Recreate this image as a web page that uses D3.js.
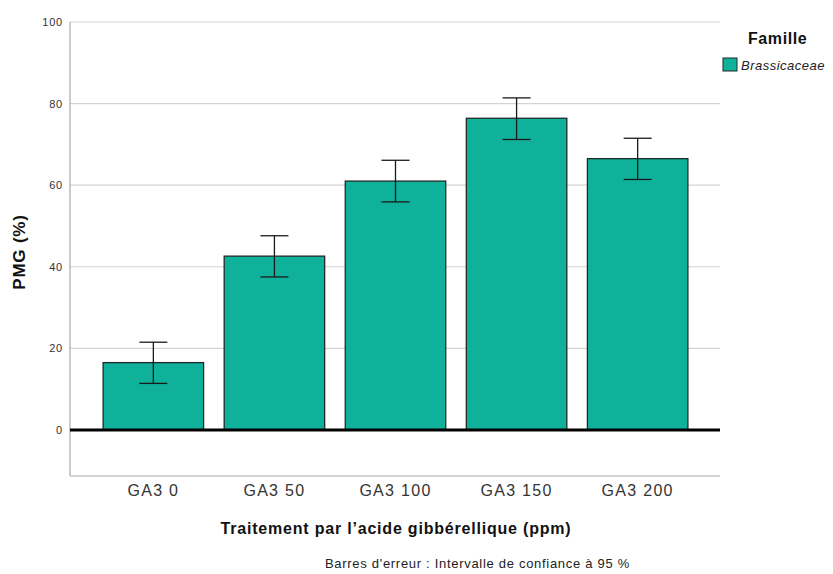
<!DOCTYPE html>
<html>
<head>
<meta charset="utf-8">
<script src="https://cdn.jsdelivr.net/npm/d3@7"></script>
<style>
  body { margin: 0; background: #fff; }
  svg { display: block; font-family: "Liberation Sans", Arial, sans-serif; }
</style>
</head>
<body>
<svg id="chart" width="833" height="574"></svg>
<script>
// Mean PMG (%) per gibberellic acid treatment, with 95% confidence limits
const categories = ["GA3 0", "GA3 50", "GA3 100", "GA3 150", "GA3 200"];
const means      = [16.5, 42.6, 61.0, 76.4, 66.5];
const ciLower    = [11.4, 37.5, 55.9, 71.2, 61.4];
const ciUpper    = [21.5, 47.6, 66.1, 81.4, 71.5];
const yTicks     = [0, 20, 40, 60, 80, 100];
const seriesName = "Brassicaceae";

const svg = d3.select("#chart");
const plotLeft = 70, plotRight = 720, plotTop = 22, plotBottom = 476;

const y = d3.scaleLinear().domain([-11.3, 100]).range([plotBottom, plotTop]);
const x = d3.scaleBand().domain(categories).range([91, 700]).paddingInner(0.17).paddingOuter(0.1);

const fill = "#10b19b";

// gridlines
svg.append("g").selectAll("line").data(yTicks.filter(d => d !== 0)).join("line")
  .attr("x1", plotLeft).attr("x2", plotRight)
  .attr("y1", d => y(d)).attr("y2", d => y(d))
  .attr("stroke", "#d4d4d4").attr("stroke-width", 1.2);

// y axis
const yAxis = svg.append("g").attr("transform", `translate(${plotLeft},0)`)
  .call(d3.axisLeft(y).tickValues(yTicks).tickSize(0).tickPadding(7));
yAxis.select(".domain").remove();
yAxis.selectAll("text").attr("font-size", 11).attr("fill", "#333")
  .attr("letter-spacing", 0.8)
  .attr("font-family", "Liberation Sans, Arial, sans-serif");
svg.append("line").attr("x1", plotLeft).attr("x2", plotLeft).attr("y1", plotTop).attr("y2", plotBottom)
  .attr("stroke", "#a8a8a8").attr("stroke-width", 1.2);
svg.append("line").attr("x1", plotLeft).attr("x2", plotRight).attr("y1", plotBottom).attr("y2", plotBottom)
  .attr("stroke", "#a8a8a8").attr("stroke-width", 1.2);

// bars
const data = categories.map((c, i) => ({ c, m: means[i], lo: ciLower[i], hi: ciUpper[i] }));
svg.append("g").selectAll("rect").data(data).join("rect")
  .attr("x", d => x(d.c)).attr("width", x.bandwidth())
  .attr("y", d => y(d.m)).attr("height", d => y(0) - y(d.m))
  .attr("fill", fill).attr("stroke", "#1f2a28").attr("stroke-width", 1.3);

// zero reference line
svg.append("line").attr("x1", plotLeft).attr("x2", plotRight).attr("y1", y(0)).attr("y2", y(0))
  .attr("stroke", "#000").attr("stroke-width", 3);

// error bars
const eb = svg.append("g").attr("stroke", "#1a1a1a").attr("stroke-width", 1.3);
const cap = 14;
data.forEach(d => {
  const cx = x(d.c) + x.bandwidth() / 2;
  eb.append("line").attr("x1", cx).attr("x2", cx).attr("y1", y(d.hi)).attr("y2", y(d.lo));
  eb.append("line").attr("x1", cx - cap).attr("x2", cx + cap).attr("y1", y(d.hi)).attr("y2", y(d.hi));
  eb.append("line").attr("x1", cx - cap).attr("x2", cx + cap).attr("y1", y(d.lo)).attr("y2", y(d.lo));
});

// x axis labels
const xAxis = svg.append("g").attr("transform", `translate(0,${plotBottom})`)
  .call(d3.axisBottom(x).tickSize(0).tickPadding(9));
xAxis.select(".domain").remove();
xAxis.selectAll("text").attr("font-size", 16).attr("fill", "#333")
  .attr("letter-spacing", 1.3)
  .attr("font-family", "Liberation Sans, Arial, sans-serif");

// axis titles
svg.append("text").attr("x", 396).attr("y", 534).attr("text-anchor", "middle")
  .attr("font-size", 16).attr("font-weight", "bold").attr("fill", "#111").attr("letter-spacing", 0.8)
  .text("Traitement par l\u2019acide gibb\u00e9rellique (ppm)");
svg.append("text").attr("transform", `translate(25,252) rotate(-90)`)
  .attr("text-anchor", "middle").attr("font-size", 17).attr("font-weight", "bold").attr("fill", "#111")
  .attr("letter-spacing", 0.8)
  .text("PMG (%)");

// footnote
svg.append("text").attr("x", 325).attr("y", 568).attr("font-size", 13).attr("fill", "#222")
  .attr("letter-spacing", 0.7)
  .text("Barres d'erreur : Intervalle de confiance \u00e0 95 %");

// legend
svg.append("text").attr("x", 748).attr("y", 44).attr("font-size", 16).attr("font-weight", "bold").attr("fill", "#111")
  .attr("letter-spacing", 0.6)
  .text("Famille");
svg.append("rect").attr("x", 723).attr("y", 58).attr("width", 14).attr("height", 13)
  .attr("fill", fill).attr("stroke", "#1f2a28").attr("stroke-width", 1);
svg.append("text").attr("x", 741).attr("y", 70).attr("font-size", 13).attr("font-style", "italic").attr("fill", "#222")
  .attr("letter-spacing", 0.5)
  .text(seriesName);
</script>
</body>
</html>
